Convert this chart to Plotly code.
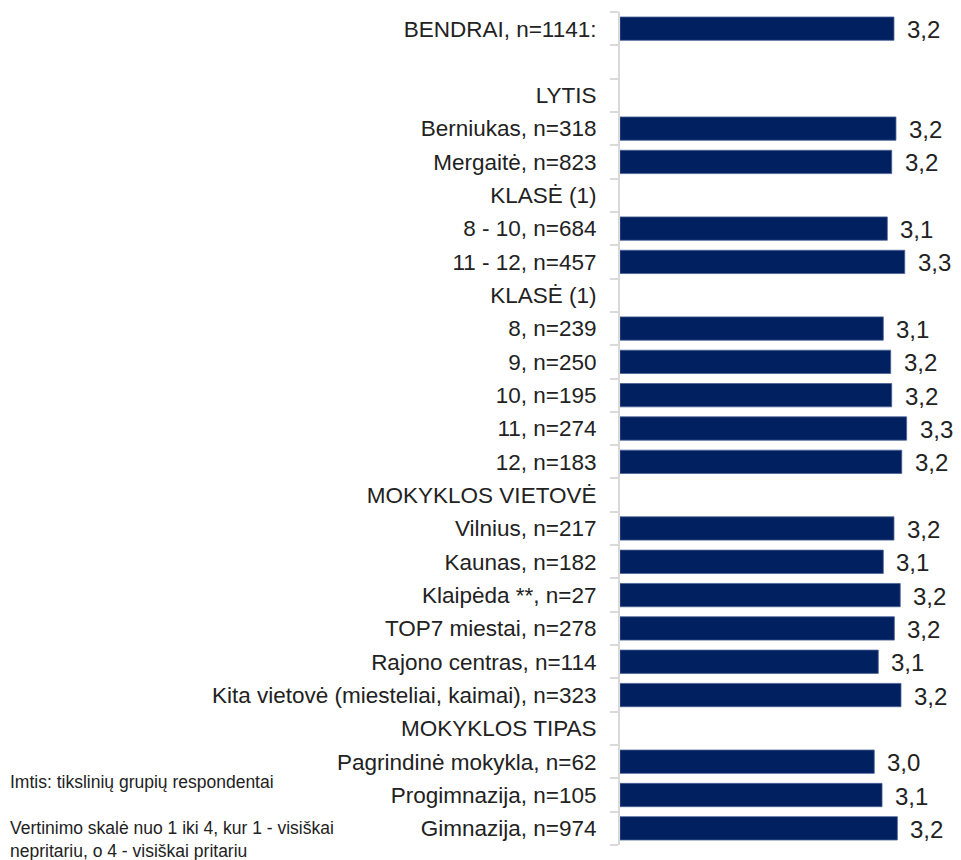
import plotly.graph_objects as go

labels = [
    "BENDRAI, n=1141:", "", "LYTIS", "Berniukas, n=318", "Mergaitė, n=823",
    "KLASĖ (1)", "8 - 10, n=684", "11 - 12, n=457", "KLASĖ (1)",
    "8, n=239", "9, n=250", "10, n=195", "11, n=274", "12, n=183",
    "MOKYKLOS VIETOVĖ", "Vilnius, n=217", "Kaunas, n=182", "Klaipėda **, n=27",
    "TOP7 miestai, n=278", "Rajono centras, n=114",
    "Kita vietovė (miesteliai, kaimai), n=323",
    "MOKYKLOS TIPAS", "Pagrindinė mokykla, n=62", "Progimnazija, n=105", "Gimnazija, n=974",
]
values = [
    3.183, None, None, 3.199, 3.165,
    None, 3.130, 3.269, None,
    3.098, 3.157, 3.165, 3.284, 3.245,
    None, 3.183, 3.098, 3.233, 3.186, 3.058, 3.239,
    None, 3.026, 3.088, 3.210,
]
footnote1 = "Imtis: tikslinių grupių respondentai"
footnote2 = "Vertinimo skalė nuo 1 iki 4, kur 1 - visiškai<br>nepritariu, o 4 - visiškai pritariu"

# page has an 8px body margin, so the figure is offset by 8px
OFF = 8
W, H = 961 - OFF, 860 - OFF
ML, MT = 620 - OFF, 12 - OFF
MB = H - (845 - OFF)
MR = 0
PW = W - ML - MR
PH = H - MT - MB
XMIN = 1.0
SCALE = 125.5
XMAX = XMIN + PW / SCALE

ids = [f"r{i}" for i in range(len(labels))]

fig = go.Figure()
fig.add_trace(go.Bar(
    y=ids, x=[(v - XMIN) if v is not None else None for v in values],
    base=XMIN, orientation="h",
    marker=dict(color="#002060", line=dict(width=0.8, color="#4a6296")),
    hoverinfo="skip",
))

ann = []
for i, v in zip(ids, values):
    if v is None:
        continue
    ann.append(dict(
        x=v, y=i, xref="x", yref="y", text=f"{v:.1f}".replace(".", ","),
        showarrow=False, xanchor="left", yanchor="middle", xshift=11, yshift=-1,
        font=dict(family="Arial, Liberation Sans", size=24, color="#222222"),
    ))

def px_x(px):
    return (px - OFF - ML) / PW

def px_y(py):
    return (H - MB - (py - OFF)) / PH

ann.append(dict(x=px_x(8), y=px_y(782), xref="paper", yref="paper", text=footnote1,
                showarrow=False, xanchor="left", yanchor="middle", align="left",
                font=dict(family="Arial, Liberation Sans", size=17.5, color="#222222")))
ann.append(dict(x=px_x(8), y=px_y(839), xref="paper", yref="paper", text=footnote2,
                showarrow=False, xanchor="left", yanchor="middle", align="left",
                font=dict(family="Arial, Liberation Sans", size=17.5, color="#222222")))

fig.update_layout(
    width=W, height=H,
    margin=dict(l=ML, r=MR, t=MT, b=MB, pad=0),
    paper_bgcolor="white", plot_bgcolor="white",
    bargap=0.3, showlegend=False,
    annotations=ann,
    xaxis=dict(range=[XMIN, XMAX], visible=False, fixedrange=True),
    yaxis=dict(
        type="category", categoryorder="array", categoryarray=ids,
        autorange="reversed",
        tickmode="array", tickvals=ids, ticktext=labels,
        tickson="boundaries", ticks="outside", ticklen=8, tickwidth=2,
        tickcolor="#d9d9d9", showline=True, linecolor="#d9d9d9", linewidth=2,
        showgrid=False, ticklabelstandoff=17,
        tickfont=dict(family="Arial, Liberation Sans", size=22.5, color="#222222"),
        fixedrange=True,
    ),
)

fig.write_html("out.html")
